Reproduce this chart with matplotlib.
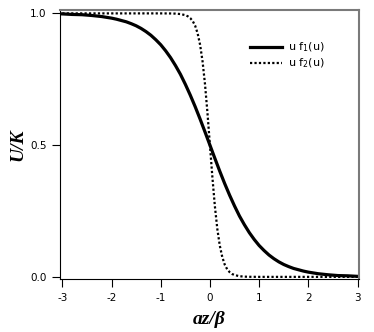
import matplotlib.pyplot as plt

# solid curve, u f1(u)
x1 = [-3.0, -2.8, -2.6, -2.4, -2.2, -2.0, -1.9, -1.8, -1.7, -1.6, -1.5, -1.4, -1.3,
      -1.2, -1.1, -1.0, -0.9, -0.8, -0.7, -0.6, -0.5, -0.4, -0.3, -0.2, -0.1,
      0.0, 0.1, 0.2, 0.3, 0.4, 0.5, 0.6, 0.7, 0.8, 0.9, 1.0, 1.1, 1.2, 1.3,
      1.4, 1.5, 1.6, 1.7, 1.8, 1.9, 2.0, 2.2, 2.4, 2.6, 2.8, 3.0]
y1 = [0.998, 0.996, 0.995, 0.992, 0.988, 0.982, 0.978, 0.973, 0.968, 0.961, 0.953, 0.943, 0.931,
      0.917, 0.900, 0.881, 0.858, 0.832, 0.802, 0.769, 0.731, 0.690, 0.646, 0.599, 0.550,
      0.500, 0.450, 0.401, 0.354, 0.310, 0.269, 0.231, 0.198, 0.168, 0.142, 0.119, 0.100, 0.083, 0.069,
      0.057, 0.047, 0.039, 0.032, 0.027, 0.022, 0.018, 0.012, 0.008, 0.005, 0.004, 0.002]

# dotted curve, u f2(u)
x2 = [-3.0, -1.0, -0.8, -0.7, -0.6, -0.5, -0.45, -0.4, -0.35, -0.3, -0.25, -0.2,
      -0.15, -0.1, -0.05, 0.0, 0.05, 0.1, 0.15, 0.2, 0.25, 0.3, 0.35, 0.4,
      0.45, 0.5, 0.6, 0.7, 0.8, 1.0, 3.0]
y2 = [1.0, 1.0, 0.9997, 0.9991, 0.9975, 0.9933, 0.989, 0.982, 0.971, 0.953, 0.924, 0.881,
      0.818, 0.731, 0.622, 0.500, 0.378, 0.269, 0.182, 0.119, 0.076, 0.047, 0.029, 0.018,
      0.011, 0.007, 0.0025, 0.0009, 0.0003, 0.0, 0.0]

xticks = [-3, -2, -1, 0, 1, 2, 3]
yticks = [0.0, 0.5, 1.0]

fig = plt.figure(figsize=(3.74, 3.32), dpi=100)
ax = fig.add_axes([0.160, 0.160, 0.800, 0.810])

ax.plot(x1, y1, color='black', lw=2.3, label='u f$_1$(u)')
ax.plot(x2, y2, color='black', lw=1.6, linestyle=(0, (1, 1)), label='u f$_2$(u)')

ax.set_xlim(-3.05, 3.03)
ax.set_ylim(-0.0076, 1.013)
ax.set_xticks(xticks)
ax.set_xticklabels([str(t) for t in xticks])
ax.set_yticks(yticks)
ax.set_yticklabels([f"{t:.1f}" for t in yticks])
ax.tick_params(direction='out', length=6, width=0.8, labelsize=7.5, colors='black')
ax.tick_params(axis='x', pad=4)

for side in ['left', 'bottom']:
    ax.spines[side].set_color('black')
    ax.spines[side].set_linewidth(0.8)
for side in ['top', 'right']:
    ax.spines[side].set_color('#7a7a7a')
    ax.spines[side].set_linewidth(1.5)

lab = dict(family='Liberation Serif', style='italic', weight='bold', fontsize=14)
ax.set_xlabel('az/β', labelpad=6, **lab)
ax.set_ylabel('U/K', labelpad=3, **lab)

ax.legend(loc='upper left', bbox_to_anchor=(0.635, 0.885), frameon=False,
          fontsize=8, handlelength=2.9, handletextpad=0.5, borderpad=0,
          borderaxespad=0, labelspacing=0.2)

fig.savefig('out.png', dpi=100)
